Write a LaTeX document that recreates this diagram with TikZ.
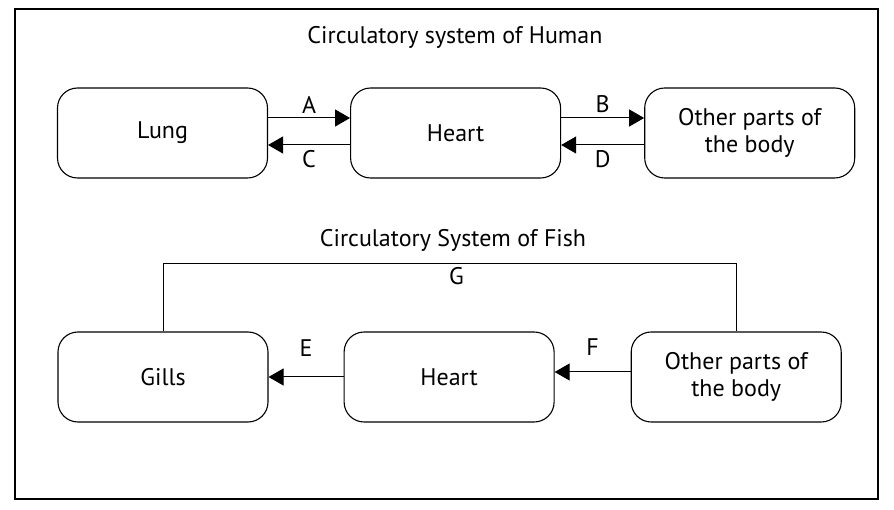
\documentclass[tikz,border=0pt]{standalone}
\usepackage{fontspec}
\setmainfont{PT Sans}
\usetikzlibrary{positioning,arrows.meta}

\begin{document}
\begin{tikzpicture}[
    x=1pt, y=1pt,
    -{Triangle[length=15pt,width=17pt]},
    line width=1pt,
    font=\fontsize{24}{27}\selectfont,
    organ/.style={draw, rounded corners=20pt, minimum width=210pt, minimum height=90pt, align=center, line width=1.1pt},
    caption/.style={draw=none, fill=none}
    ]
    \useasboundingbox (0,0) rectangle (894,-510);
    \draw[-, line width=1.2pt] (15,-9) rectangle (878,-499);

    % human
    \node[caption] (htitle) at (455,-37) {Circulatory system of Human};
    \node[organ] (lung) at (162.5,-133) {Lung};
    \node[organ] (hheart) [right=82pt of lung] {Heart};
    \node[organ] (hbody) [right=83pt of hheart] {Other parts of\\the body};

    \path
      ([yshift=15pt]lung.east) edge node [above=1pt] {A} ([yshift=15pt]hheart.west)
      ([yshift=-12pt]hheart.west) edge node [below=2pt] {C} ([yshift=-12pt]lung.east)
      ([yshift=15pt]hheart.east) edge node [above=1pt] {B} ([yshift=15pt]hbody.west)
      ([yshift=-12pt]hbody.west) edge node [below=2pt] {D} ([yshift=-12pt]hheart.east);

    % fish
    \node[caption] (ftitle) at (453,-240) {Circulatory System of Fish};
    \node[organ] (gills) at (163,-377) {Gills};
    \node[organ] (fheart) [right=75pt of gills] {Heart};
    \node[organ] (fbody) [right=76pt of fheart] {Other parts of\\the body};

    \path
      (fheart.west) edge node [above=17pt] {E} (gills.east)
      ([yshift=5pt]fbody.west) edge node [above=13pt] {F} ([yshift=5pt]fheart.east);
    \draw[-] (gills.north) -- ++(0,68) -| node [pos=0.256, below] {G} (fbody.north);
\end{tikzpicture}
\end{document}
